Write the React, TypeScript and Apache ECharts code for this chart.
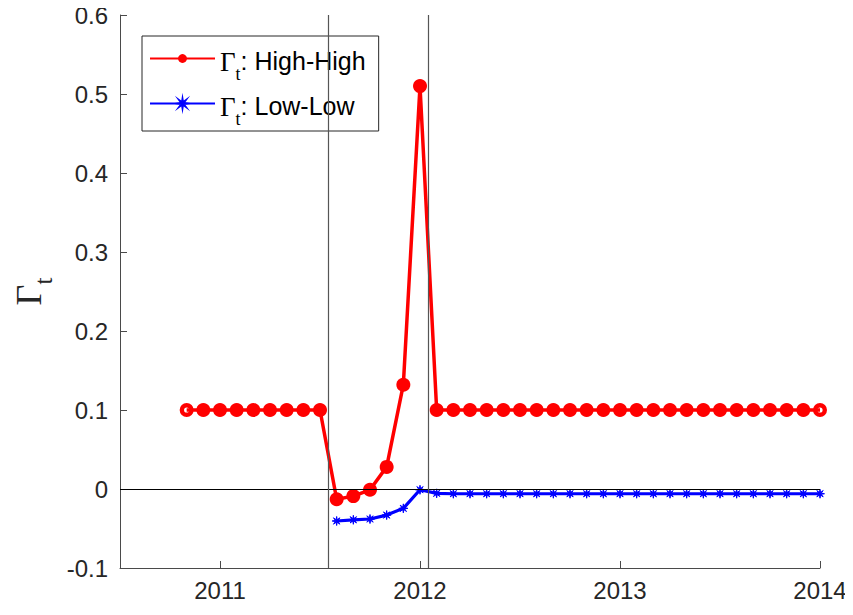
import React, { useEffect, useRef } from "react";
import * as echarts from "echarts";

// Monthly observations (Nov 2010 – Jan 2014)
const months: string[] = [
  "2010-11", "2010-12",
  "2011-01", "2011-02", "2011-03", "2011-04", "2011-05", "2011-06",
  "2011-07", "2011-08", "2011-09", "2011-10", "2011-11", "2011-12",
  "2012-01", "2012-02", "2012-03", "2012-04", "2012-05", "2012-06",
  "2012-07", "2012-08", "2012-09", "2012-10", "2012-11", "2012-12",
  "2013-01", "2013-02", "2013-03", "2013-04", "2013-05", "2013-06",
  "2013-07", "2013-08", "2013-09", "2013-10", "2013-11", "2013-12",
  "2014-01",
];

const highHigh: number[] = [
  0.1, 0.1, 0.1, 0.1, 0.1, 0.1, 0.1, 0.1, 0.1,
  -0.013, -0.009, -0.001, 0.028, 0.132, 0.51,
  0.1, 0.1, 0.1, 0.1, 0.1, 0.1, 0.1, 0.1, 0.1, 0.1, 0.1, 0.1,
  0.1, 0.1, 0.1, 0.1, 0.1, 0.1, 0.1, 0.1, 0.1, 0.1, 0.1, 0.1,
];

// Low-Low starts in Aug 2011
const lowLowMonths: string[] = months.slice(9);
const lowLow: number[] = [
  -0.0405, -0.039, -0.038, -0.033, -0.0245, -0.001,
  -0.0055, -0.006, -0.006, -0.006, -0.006, -0.006, -0.006, -0.006, -0.006, -0.006, -0.006, -0.006,
  -0.006, -0.006, -0.006, -0.006, -0.006, -0.006, -0.006, -0.006, -0.006, -0.006, -0.006, -0.006,
];

const xTicks: number[] = [2011, 2012, 2013, 2014];
const eventLines: number[] = [2011.54, 2012.04];

const HH = "Γt: High-High";
const LL = "Γt: Low-Low";

const toYear = (s: string) => {
  const [y, m] = s.split("-").map(Number);
  return y + (m - 1) / 12;
};

const SANS = "Liberation Sans, Arial, Helvetica, sans-serif";
const SERIF = "Liberation Serif, Times New Roman, serif";
const AX = "#4a4a4a";

const asterisk =
  "path://M10,0 L2.77,1.15 L7.07,7.07 L1.15,2.77 L0,10 L-1.15,2.77 L-7.07,7.07 L-2.77,1.15 L-10,0 L-2.77,-1.15 L-7.07,-7.07 L-1.15,-2.77 L0,-10 L1.15,-2.77 L7.07,-7.07 L2.77,-1.15 Z";
const ring =
  "path://M0,-7 A7,7 0 1,1 0,7 A7,7 0 1,1 0,-7 Z M0,-2.6 A2.6,2.6 0 1,0 0,2.6 A2.6,2.6 0 1,0 0,-2.6 Z";

export default function App() {
  const ref = useRef<HTMLDivElement>(null);
  useEffect(() => {
    if (!ref.current) return;
    const chart = echarts.init(ref.current, null, { renderer: "svg" });
    const last = months.length - 1;
    const hhData = months.map((m, i) => {
      const p: any = { value: [toYear(m), highHigh[i]] };
      if (i === 0 || i === last) {
        p.symbol = ring;
        p.symbolSize = 14;
      }
      return p;
    });
    const option: any = {
      animation: false,
      backgroundColor: "#ffffff",
      grid: { left: 120, right: 33, top: 15, bottom: 47, containLabel: false },
      xAxis: {
        type: "value",
        min: 2010.5,
        max: 2014,
        axisLine: { show: true, onZero: false, lineStyle: { color: AX, width: 1 } },
        axisTick: { show: true, inside: true, length: 7, customValues: xTicks, lineStyle: { color: AX } },
        axisLabel: {
          customValues: xTicks,
          formatter: (v: number) => String(v),
          fontSize: 24,
          color: "#262626",
          fontFamily: SANS,
          margin: 10,
        },
        splitLine: { show: false },
      },
      yAxis: {
        type: "value",
        min: -0.1,
        max: 0.6,
        interval: 0.1,
        axisLine: { show: true, onZero: false, lineStyle: { color: AX, width: 1 } },
        axisTick: { show: true, inside: true, length: 7, lineStyle: { color: AX } },
        axisLabel: {
          formatter: (v: number) => String(parseFloat(v.toFixed(1))),
          fontSize: 24,
          color: "#262626",
          fontFamily: SANS,
          margin: 12,
        },
        splitLine: { show: false },
        name: "{g|Γ}{s|t}",
        nameLocation: "middle",
        nameGap: 62,
        nameTextStyle: {
          rich: {
            g: { fontSize: 36, fontFamily: SERIF, color: "#262626", lineHeight: 34, verticalAlign: "top" },
            s: { fontSize: 25, fontFamily: SERIF, color: "#262626", lineHeight: 24, padding: [20, 0, 0, 0], verticalAlign: "top" },
          },
        },
      },
      legend: {
        data: [HH, LL],
        orient: "vertical",
        left: 142,
        top: 36,
        padding: [10, 13, 3, 7],
        itemGap: 8,
        itemWidth: 65,
        itemHeight: 11,
        borderColor: "#262626",
        borderWidth: 1,
        backgroundColor: "#ffffff",
        formatter: (name: string) =>
          name === HH ? "{g|Γ}{s|t}{n|: High-High}" : "{g|Γ}{s|t}{n|: Low-Low}",
        textStyle: {
          rich: {
            n: { fontSize: 25, fontFamily: SANS, color: "#000", lineHeight: 25, padding: [2, 0, 0, 0], verticalAlign: "top" },
            g: { fontSize: 27, fontFamily: SERIF, color: "#000", lineHeight: 25, padding: [2, 0, 0, 0], verticalAlign: "top" },
            s: { fontSize: 18, fontFamily: SERIF, color: "#000", lineHeight: 18, padding: [19, 0, 0, 0], verticalAlign: "top" },
          },
        },
      },
      series: [
        {
          name: "refs",
          type: "line",
          data: [],
          z: 1,
          silent: true,
          markLine: {
            silent: true,
            symbol: ["none", "none"],
            label: { show: false },
            animation: false,
            data: [
              { yAxis: 0, lineStyle: { color: "#000", width: 1, type: "solid" } },
              ...eventLines.map((x) => ({ xAxis: x, lineStyle: { color: "#555", width: 1.2, type: "solid" } })),
            ],
          },
        },
        {
          name: HH,
          type: "line",
          z: 3,
          data: hhData,
          lineStyle: { color: "#ff0000", width: 3.5 },
          itemStyle: { color: "#ff0000" },
          symbol: "circle",
          symbolSize: 14,
          showAllSymbol: true,
        },
        {
          name: LL,
          type: "line",
          z: 2,
          data: lowLowMonths.map((m, i) => [toYear(m), lowLow[i]]),
          lineStyle: { color: "#0000ff", width: 3.2 },
          itemStyle: { color: "#0000ff", borderColor: "#0000ff", borderWidth: 1 },
          symbol: asterisk,
          symbolSize: 9,
          showAllSymbol: true,
        },
      ],
    };
    chart.setOption(option);
    return () => chart.dispose();
  }, []);
  return <div ref={ref} style={{ width: 853, height: 615, margin: -8 }} />;
}
